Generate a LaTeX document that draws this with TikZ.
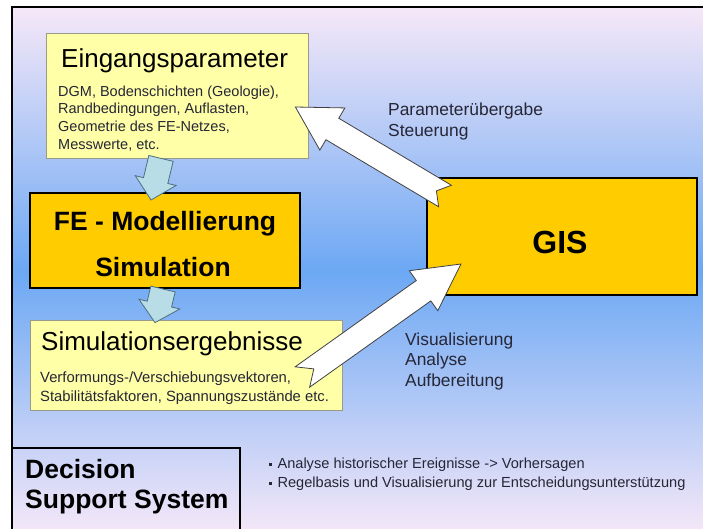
\documentclass[tikz,border=0pt]{standalone}
\usepackage{fontspec}
\setmainfont{Liberation Sans}
\usepackage{tikz}
\usetikzlibrary{calc}

\definecolor{bgpink}{HTML}{F6E8F8}
\definecolor{bgblue}{HTML}{6CA8F4}
\definecolor{lightyellow}{HTML}{FFFFA8}
\definecolor{boxgray}{HTML}{9A9A8A}
\definecolor{gisorange}{HTML}{FFCC00}
\definecolor{arrowblue}{HTML}{B8DDE6}
\definecolor{arrowedge}{HTML}{4E6E80}
\definecolor{textdark}{HTML}{262636}

% block arrow: style, tail, tip, half shaft, half head, head length, notch
\newcommand{\blockarrow}[7]{%
  \coordinate (ba-h) at ($(#3)!#6!(#2)$);
  \draw[#1] ($(#2)!#4!90:(#3)$) -- ($(ba-h)!#4!90:(#3)$) -- ($(ba-h)!#5!90:(#3)$) -- (#3)
    -- ($(ba-h)!#5!-90:(#3)$) -- ($(ba-h)!#4!-90:(#3)$) -- ($(#2)!#4!-90:(#3)$)
    -- ($(#2)!#7!(#3)$) -- cycle;}

\begin{document}
\begin{tikzpicture}[x=1pt,y=-1pt,
  every node/.style={inner sep=0pt},
  ybox/.style={draw=boxgray, fill=lightyellow, line width=0.8pt},
  obox/.style={draw=black, fill=gisorange, line width=2pt},
  bigtitle/.style={anchor=base west, font=\fontsize{26}{30}\selectfont},
  smalltext/.style={anchor=north west, align=left, text=textdark},
  boldtitle/.style={font=\bfseries\fontsize{26.5}{30}\selectfont},
  notetext/.style={anchor=north west, align=left, text=textdark, font=\fontsize{17.4}{21}\selectfont},
  bluearrow/.style={draw=arrowedge, fill=arrowblue, line width=0.8pt},
  whitearrow/.style={draw=black!75, fill=white, line width=0.8pt}]
\useasboundingbox (0,0) rectangle (703,528);
\shade[top color=bgpink, bottom color=bgpink, middle color=bgblue] (12,7) rectangle (712,535);
\draw[line width=2.5pt] (12,7) rectangle (712,535);

\node[ybox, minimum width=262pt, minimum height=125pt] (ein) at (177,95.5) {};
\node[bigtitle] (eintitle) at (61,67) {Eingangsparameter};
\node[smalltext, font=\fontsize{14.5}{17.7}\selectfont] (eintext) at (58,85.4)
  {DGM, Bodenschichten (Geologie),\\Randbedingungen, Auflasten,\\Geometrie des FE-Netzes,\\Messwerte, etc.};

\node[obox, minimum width=270pt, minimum height=95pt] (fe) at (165,240.5) {};
\node[boldtitle, anchor=base] (fetitle) at (165,230) {FE - Modellierung};
\node[boldtitle, anchor=base] (fesim) at (163,276) {Simulation};

\node[ybox, minimum width=312pt, minimum height=90pt] (sim) at (186,365) {};
\node[bigtitle] (simtitle) at (41,350) {Simulationsergebnisse};
\node[smalltext, font=\fontsize{14.8}{19}\selectfont] (simtext) at (40,371.2)
  {Verformungs-/Verschiebungsvektoren,\\Stabilitätsfaktoren, Spannungszustände etc.};

\node[obox, minimum width=270pt, minimum height=117pt] (gis) at (562,236.5) {};
\node[anchor=base, font=\bfseries\fontsize{32}{36}\selectfont] (gistitle) at (560,253) {GIS};

\node[notetext] (partext) at (388,102.3) {Parameterübergabe\\Steuerung};
\node[notetext, font=\fontsize{17.4}{20.5}\selectfont] (vistext) at (405,332.3) {Visualisierung\\Analyse\\Aufbereitung};

\node[draw, line width=2.5pt, minimum width=228pt, minimum height=100pt] (dss) at (126,498) {};
\node[boldtitle, anchor=north west, align=left] (dsstext) at (25,458.7) {Decision\\Support System};
\node[smalltext, font=\fontsize{14.6}{19}\selectfont] (dssnotes) at (269,457.3)
  {\rule[0.3ex]{0.22em}{0.22em}\hspace{0.35em}Analyse historischer Ereignisse -> Vorhersagen\\
   \rule[0.3ex]{0.22em}{0.22em}\hspace{0.35em}Regelbasis und Visualisierung zur Entscheidungsunterstützung};

\coordinate (einbot) at ($(ein.south)+(-16,0)$);
\coordinate (fetop) at ($(fe.north)+(-14,8)$);
\coordinate (febot) at ($(fe.south)+(-2,0)$);
\coordinate (simtop) at ($(sim.north)+(-31,3)$);
\blockarrow{bluearrow}{einbot}{fetop}{12.5pt}{21pt}{20pt}{0pt}
\blockarrow{bluearrow}{febot}{simtop}{12.5pt}{21pt}{19pt}{0pt}

\coordinate (partail) at ($(gis.north west)+(19,19)$);
\coordinate (partip) at ($(ein.east)+(-13,11.5)$);
\coordinate (vistail) at ($(sim.east)+(-40,12)$);
\coordinate (vistip) at ($(gis.south west)+(35,-32)$);
\blockarrow{whitearrow}{partail}{partip}{12.5pt}{24.5pt}{43pt}{10pt}
\blockarrow{whitearrow}{vistail}{vistip}{12.5pt}{24.5pt}{46pt}{14pt}
\end{tikzpicture}
\end{document}
